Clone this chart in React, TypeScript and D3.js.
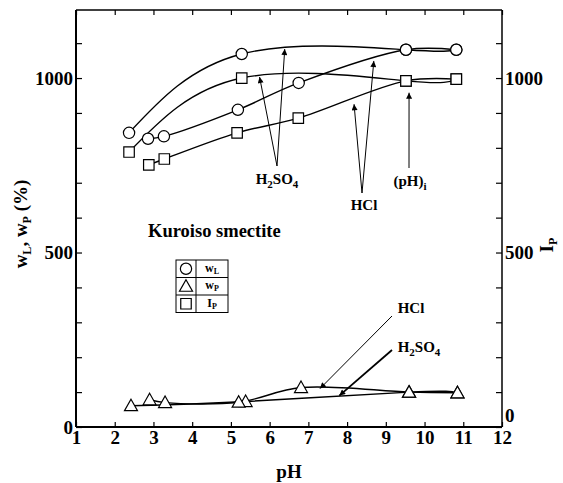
import React, { useRef, useEffect } from "react";
import * as d3 from "d3";

// pH axis ticks and labelled value ticks
const pHTicks = [1, 2, 3, 4, 5, 6, 7, 8, 9, 10, 11, 12];
const minorTicks = [0, 100, 200, 300, 400, 500, 600, 700, 800, 900, 1000, 1100];
const valueLabels = [0, 500, 1000];

// w_L (circles)
const wL_H2SO4_pH = [2.37, 5.28, 9.52, 10.82];
const wL_H2SO4 = [843, 1069, 1081, 1081];
const wL_HCl_pH = [2.86, 3.27, 5.18, 6.75, 9.52, 10.82];
const wL_HCl = [826, 833, 909, 986, 1081, 1081];

// I_P (squares)
const Ip_H2SO4_pH = [2.37, 5.28, 9.52, 10.82];
const Ip_H2SO4 = [788, 1000, 992, 997];
const Ip_HCl_pH = [2.88, 3.28, 5.16, 6.74, 9.52, 10.82];
const Ip_HCl = [751, 768, 843, 885, 992, 997];

// w_P (triangles)
const wP_H2SO4_pH = [2.42, 5.38, 9.6, 10.85];
const wP_H2SO4 = [61, 73, 100, 98];
const wP_HCl_pH = [2.9, 3.3, 5.2, 6.81, 9.6, 10.85];
const wP_HCl = [78, 70, 71, 113, 100, 98];

const zip = (xs: number[], ys: number[]) => xs.map((x, i) => ({ x, y: ys[i] }));

const App = () => {
  const svgRef = useRef<SVGSVGElement>(null);

  const width = 563;
  const height = 483;
  const margin = { top: 10, right: 61, bottom: 56, left: 76 };
  const font = "'Liberation Serif', 'Times New Roman', serif";

  useEffect(() => {
    const svg = d3.select(svgRef.current);
    svg.selectAll("*").remove();

    const x = d3.scaleLinear().domain([1, 12]).range([margin.left, width - margin.right]);
    const y = d3.scaleLinear().domain([0, 1195]).range([height - margin.bottom, margin.top]);

    const defs = svg.append("defs");
    defs
      .append("marker")
      .attr("id", "arrow")
      .attr("viewBox", "0 0 10 10")
      .attr("refX", 10)
      .attr("refY", 5)
      .attr("markerUnits", "userSpaceOnUse")
      .attr("markerWidth", 10)
      .attr("markerHeight", 6)
      .attr("orient", "auto")
      .append("path")
      .attr("d", "M0,0L10,5L0,10Z")
      .attr("fill", "black");

    // frame
    const x0 = x(1), x1 = x(12), y0 = y(0), y1 = margin.top;
    svg.append("line").attr("x1", x0).attr("x2", x0).attr("y1", y1).attr("y2", y0).attr("stroke", "black").attr("stroke-width", 2);
    svg.append("line").attr("x1", x0).attr("x2", x1).attr("y1", y0).attr("y2", y0).attr("stroke", "black").attr("stroke-width", 2);
    svg.append("line").attr("x1", x0).attr("x2", x1).attr("y1", y1).attr("y2", y1).attr("stroke", "black").attr("stroke-width", 1.5);
    svg.append("line").attr("x1", x1).attr("x2", x1).attr("y1", y1).attr("y2", y0).attr("stroke", "black").attr("stroke-width", 1.5);

    const styleAxis = (g: any) => {
      g.select(".domain").remove();
      g.selectAll(".tick line").attr("stroke", "black").attr("stroke-width", 1.2);
      g.selectAll(".tick text")
        .attr("fill", "black")
        .style("font-family", font)
        .style("font-weight", "bold")
        .style("font-size", "19px");
    };

    // bottom axis
    svg
      .append("g")
      .attr("transform", `translate(0,${y0})`)
      .call(d3.axisBottom(x).tickValues(pHTicks).tickFormat(d3.format("d")).tickSizeInner(-5).tickSizeOuter(0).tickPadding(3))
      .call(styleAxis);

    // top axis
    svg
      .append("g")
      .attr("transform", `translate(0,${y1})`)
      .call(d3.axisTop(x).tickValues(pHTicks).tickFormat(() => "").tickSizeInner(-5).tickSizeOuter(0))
      .call(styleAxis);

    // left axis
    svg
      .append("g")
      .attr("transform", `translate(${x0},0)`)
      .call(
        d3
          .axisLeft(y)
          .tickValues(minorTicks)
          .tickFormat((d: any) => (valueLabels.includes(d) ? String(d) : ""))
          .tickSizeInner(-6)
          .tickSizeOuter(0)
          .tickPadding(3)
      )
      .call(styleAxis);

    // right axis
    const right = svg
      .append("g")
      .attr("transform", `translate(${x1},0)`)
      .call(
        d3
          .axisRight(y)
          .tickValues(minorTicks)
          .tickFormat((d: any) => (valueLabels.includes(d) ? String(d) : ""))
          .tickSizeInner(-6)
          .tickSizeOuter(0)
          .tickPadding(3)
      )
      .call(styleAxis);

    // the right "0" sits above the "12", as in the original
    right
      .selectAll(".tick text")
      .filter((d: any) => d === 0)
      .attr("transform", "translate(0,-12)");

    // lines
    const lineNatural = d3.line<any>().x((d) => x(d.x)).y((d) => y(d.y)).curve(d3.curveNatural);
    const lineCR = d3.line<any>().x((d) => x(d.x)).y((d) => y(d.y)).curve(d3.curveCatmullRom.alpha(0.5));

    const series = [
      { pts: zip(wL_H2SO4_pH, wL_H2SO4), line: lineNatural, shape: "circle" },
      { pts: zip(wL_HCl_pH, wL_HCl), line: lineCR, shape: "circle" },
      { pts: zip(Ip_H2SO4_pH, Ip_H2SO4), line: lineNatural, shape: "square" },
      { pts: zip(Ip_HCl_pH, Ip_HCl), line: lineCR, shape: "square" },
      { pts: zip(wP_H2SO4_pH, wP_H2SO4), line: lineNatural, shape: "triangle" },
      { pts: zip(wP_HCl_pH, wP_HCl), line: lineCR, shape: "triangle" },
    ];

    series.forEach((s) => {
      svg
        .append("path")
        .attr("d", s.line(s.pts))
        .attr("fill", "none")
        .attr("stroke", "black")
        .attr("stroke-width", 1.4);
    });

    const symbolPath = (shape: string) => {
      if (shape === "circle") return d3.symbol(d3.symbolCircle, 100)();
      if (shape === "square") return d3.symbol(d3.symbolSquare, 110)();
      return "M0,-6.5L6.5,5L-6.5,5Z";
    };

    series.forEach((s) => {
      svg
        .append("g")
        .selectAll("path")
        .data(s.pts)
        .enter()
        .append("path")
        .attr("transform", (d) => `translate(${x(d.x)},${y(d.y)})`)
        .attr("d", symbolPath(s.shape))
        .attr("fill", "white")
        .attr("stroke", "black")
        .attr("stroke-width", 1.2);
    });

    // annotations
    const arrow = (fx: number, fy: number, tpH: number, tv: number, w = 1) =>
      svg
        .append("line")
        .attr("x1", fx)
        .attr("y1", fy)
        .attr("x2", x(tpH))
        .attr("y2", y(tv))
        .attr("stroke", "black")
        .attr("stroke-width", w)
        .attr("marker-end", "url(#arrow)");

    const label = (tx: number, ty: number, parts: [string, boolean][], size = 15, anchor = "middle") => {
      const t = svg
        .append("text")
        .attr("x", tx)
        .attr("y", ty)
        .attr("text-anchor", anchor)
        .style("font-family", font)
        .style("font-weight", "bold")
        .style("font-size", `${size}px`);
      let sub = false;
      parts.forEach(([str, isSub]) => {
        const dy = isSub && !sub ? 4 : !isSub && sub ? -4 : 0;
        t.append("tspan")
          .attr("dy", dy)
          .style("font-size", isSub ? `${Math.round(size * 0.7)}px` : `${size}px`)
          .text(str);
        sub = isSub;
      });
      return t;
    };

    // upper H2SO4
    arrow(277, 166, 5.74, 1003);
    arrow(277, 166, 6.39, 1083);
    label(277, 184, [["H", false], ["2", true], ["SO", false], ["4", true]]);

    // upper HCl
    arrow(362, 193, 8.18, 925);
    arrow(362, 193, 8.69, 1049);
    label(364, 210, [["HCl", false]]);

    // (pH)i
    arrow(409, 168, 9.6, 958);
    label(410, 186, [["(pH)", false], ["i", true]]);

    // lower HCl
    arrow(392, 316, 7.3, 110);
    label(411, 313, [["HCl", false]]);

    // lower H2SO4
    arrow(392, 350, 7.8, 90, 1.8);
    label(419, 352, [["H", false], ["2", true], ["SO", false], ["4", true]]);

    // chart caption
    label(148, 237, [["Kuroiso smectite", false]], 18.5, "start");

    // legend
    const lg = svg.append("g").attr("transform", "translate(176,260)");
    const rowH = 17.5;
    lg.append("rect").attr("width", 52).attr("height", rowH * 3).attr("fill", "white").attr("stroke", "black").attr("stroke-width", 1);
    lg.append("line").attr("x1", 20).attr("x2", 20).attr("y1", 0).attr("y2", rowH * 3).attr("stroke", "black");
    [1, 2].forEach((i) =>
      lg.append("line").attr("x1", 0).attr("x2", 52).attr("y1", rowH * i).attr("y2", rowH * i).attr("stroke", "black")
    );
    const legendItems: [string, string, string][] = [
      ["circle", "w", "L"],
      ["triangle", "w", "P"],
      ["square", "I", "P"],
    ];
    legendItems.forEach(([shape, main, sub], i) => {
      lg.append("path")
        .attr("transform", `translate(10,${rowH * i + rowH / 2})`)
        .attr("d", symbolPath(shape))
        .attr("fill", "white")
        .attr("stroke", "black")
        .attr("stroke-width", 1.2);
      const t = lg
        .append("text")
        .attr("x", 36)
        .attr("y", rowH * i + rowH / 2 + 3)
        .attr("text-anchor", "middle")
        .style("font-family", font)
        .style("font-weight", "bold")
        .style("font-size", "12px");
      t.append("tspan").text(main);
      t.append("tspan").attr("dy", 2).style("font-size", "8px").text(sub);
    });

    // axis titles
    svg
      .append("text")
      .attr("x", (x0 + x1) / 2)
      .attr("y", 478)
      .attr("text-anchor", "middle")
      .style("font-family", font)
      .style("font-weight", "bold")
      .style("font-size", "19px")
      .text("pH");

    const yt = svg
      .append("text")
      .attr("transform", "translate(27,224) rotate(-90)")
      .attr("text-anchor", "middle")
      .style("font-family", font)
      .style("font-weight", "bold")
      .style("font-size", "19px");
    yt.append("tspan").text("w");
    yt.append("tspan").attr("dy", 4).style("font-size", "12px").text("L");
    yt.append("tspan").attr("dy", -4).text(", w");
    yt.append("tspan").attr("dy", 4).style("font-size", "12px").text("P");
    yt.append("tspan").attr("dy", -4).text(" (%)");

    const rt = svg
      .append("text")
      .attr("transform", "translate(553,245) rotate(-90)")
      .attr("text-anchor", "middle")
      .style("font-family", font)
      .style("font-weight", "bold")
      .style("font-size", "19px");
    rt.append("tspan").text("I");
    rt.append("tspan").attr("dy", 4).style("font-size", "12px").text("P");
  }, []);

  return (
    <div style={{ position: "fixed", left: 0, top: 0, background: "white" }}>
      <svg ref={svgRef} width={width} height={height} />
    </div>
  );
};

export default App;
